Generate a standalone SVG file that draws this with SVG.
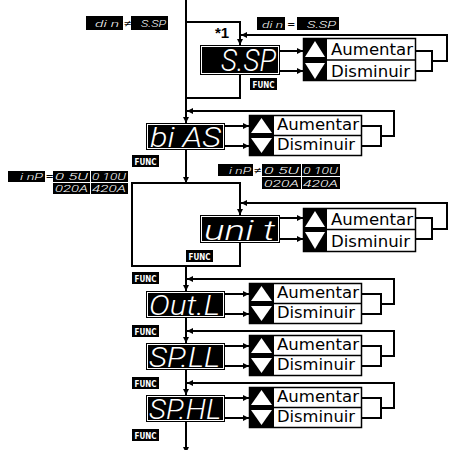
<svg xmlns="http://www.w3.org/2000/svg" width="453" height="450" viewBox="0 0 453 450">
<defs>
<marker id="ah" markerUnits="userSpaceOnUse" markerWidth="6" markerHeight="6" refX="6" refY="3" orient="auto">
<path d="M0,0 L6,3 L0,6 z" fill="#000"/>
</marker>
<style>
.ln{fill:none;stroke:#000;stroke-width:2}
.ar{marker-end:url(#ah)}
.dout{fill:#fff;stroke:#000;stroke-width:1}
.din{fill:#000}
.seg{font-family:Roboto,"DejaVu Sans",sans-serif;font-style:italic;font-weight:300;fill:#fff}
.key{fill:#fff;stroke:#000;stroke-width:1.5}
.tri{fill:#fff}
.kt{font-family:"DejaVu Sans",sans-serif;font-size:16px;fill:#000}
.fb{fill:#000}
.ft{font-family:"DejaVu Sans",sans-serif;font-weight:bold;font-size:8px;fill:#fff}
.lb{fill:#000}
.ls{font-family:Roboto,"DejaVu Sans",sans-serif;font-style:italic;font-weight:300;font-size:9px;fill:#fff}
.op{font-family:"DejaVu Sans",sans-serif;font-size:10px;fill:#000}
</style>
</defs>
<rect width="453" height="450" fill="#fff"/>

<g id="connectors">
<path class="ln ar" d="M186,0 V123"/>
<path class="ln ar" d="M186,22 H240 V45"/>
<path class="ln" d="M240,75 V98 H186"/>
<path class="ln ar" d="M280,51 H303"/>
<path class="ln ar" d="M280,71 H303"/>
<path class="ln" d="M415,51 H432 V71 H415"/>
<path class="ln ar" d="M432,61 H447 V35 H241"/>

<path class="ln ar" d="M186,150 V183"/>
<path class="ln ar" d="M225,126 H249"/>
<path class="ln ar" d="M225,146 H249"/>
<path class="ln" d="M362,126 H381 V146 H362"/>
<path class="ln ar" d="M381,136 H394 V111 H187"/>

<path class="ln ar" d="M240,243 V266 H132 V183 H240 V215"/>
<path class="ln ar" d="M280,218 H303"/>
<path class="ln ar" d="M280,239 H303"/>
<path class="ln" d="M415,218 H432 V239 H415"/>
<path class="ln ar" d="M432,229 H447 V203 H241"/>

<path class="ln ar" d="M186,266 V291"/>
<path class="ln ar" d="M225,294 H249"/>
<path class="ln ar" d="M225,314 H249"/>
<path class="ln" d="M362,294 H381 V314 H362"/>
<path class="ln ar" d="M381,304 H394 V279 H187"/>

<path class="ln ar" d="M186,318 V343"/>
<path class="ln ar" d="M225,346 H249"/>
<path class="ln ar" d="M225,366 H249"/>
<path class="ln" d="M362,346 H381 V366 H362"/>
<path class="ln ar" d="M381,356 H394 V331 H187"/>

<path class="ln ar" d="M186,370 V395"/>
<path class="ln ar" d="M225,398 H249"/>
<path class="ln ar" d="M225,418 H249"/>
<path class="ln" d="M362,398 H381 V418 H362"/>
<path class="ln ar" d="M381,408 H394 V383 H187"/>

<path class="ln ar" d="M186,422 V453"/>
</g>

<g id="label-din-ne">
<rect class="lb" x="86" y="16" width="37" height="14"/>
<text class="ls" x="95" y="27" font-size="11" textLength="24" lengthAdjust="spacingAndGlyphs">di n</text>
<text class="op" x="123.5" y="27">≠</text>
<rect class="lb" x="131" y="16" width="37" height="14"/>
<text class="ls" x="141" y="27" font-size="11" textLength="25" lengthAdjust="spacingAndGlyphs">S.SP</text>
</g>

<g id="label-din-eq">
<rect class="lb" x="257" y="17" width="28" height="13"/>
<text class="ls" x="262" y="27.5" font-size="11" textLength="21" lengthAdjust="spacingAndGlyphs">di n</text>
<text class="op" x="287" y="27.5">=</text>
<rect class="lb" x="297" y="17" width="42" height="13"/>
<text class="ls" x="307" y="27.5" font-size="11" textLength="29" lengthAdjust="spacingAndGlyphs">S.SP</text>
</g>

<g id="note-1">
<text x="215" y="38" font-family="Liberation Sans, sans-serif" font-weight="bold" font-size="15">*1</text>
</g>

<g id="disp-ssp">
<rect class="dout" x="200.5" y="45.5" width="79" height="29"/>
<rect class="din" x="202" y="47" width="76" height="26"/>
<text class="seg" x="221" y="71" font-size="32" textLength="55" lengthAdjust="spacingAndGlyphs">S.SP</text>
</g>
<g id="func-ssp"><rect class="fb" x="250" y="78" width="27" height="12"/><text class="ft" x="252.5" y="87.5" textLength="22" lengthAdjust="spacingAndGlyphs">FUNC</text></g>
<g id="keys-ssp">
<rect class="key" x="303.5" y="38.5" width="112" height="42"/>
<rect class="din" x="303" y="38" width="24" height="43"/>
<polygon class="tri" points="315,41 305,57 325,57"/>
<polygon class="tri" points="305,63 325,63 315,79"/>
<line x1="327" y1="60" x2="415" y2="60" stroke="#000" stroke-width="1.5"/>
<text class="kt" x="331" y="55" font-size="17" textLength="82" lengthAdjust="spacingAndGlyphs">Aumentar</text>
<text class="kt" x="331" y="77" font-size="17" textLength="79" lengthAdjust="spacingAndGlyphs">Disminuir</text>
</g>

<g id="disp-bias">
<rect class="dout" x="146.5" y="123.5" width="78" height="26"/>
<rect class="din" x="148" y="125" width="75" height="23"/>
<text class="seg" x="150" y="147" font-size="27" textLength="71" lengthAdjust="spacingAndGlyphs">bi AS</text>
</g>
<g id="func-bias"><rect class="fb" x="132" y="155" width="27" height="12"/><text class="ft" x="134.5" y="164.5" textLength="22" lengthAdjust="spacingAndGlyphs">FUNC</text></g>
<g id="keys-bias">
<rect class="key" x="249.5" y="115.5" width="112" height="40"/>
<rect class="din" x="249" y="115" width="25" height="41"/>
<polygon class="tri" points="261.5,118 251,133 272,133"/>
<polygon class="tri" points="251,138 272,138 261.5,153"/>
<line x1="274" y1="135.5" x2="362" y2="135.5" stroke="#000" stroke-width="1.5"/>
<text class="kt" x="277" y="130" textLength="82" lengthAdjust="spacingAndGlyphs">Aumentar</text>
<text class="kt" x="277" y="150" textLength="78" lengthAdjust="spacingAndGlyphs">Disminuir</text>
</g>

<g id="label-inp-eq">
<rect class="lb" x="8" y="171" width="37" height="11"/>
<text class="ls" x="20" y="180" textLength="23" lengthAdjust="spacingAndGlyphs">i nP</text>
<text class="op" x="45.5" y="180">=</text>
<rect class="lb" x="53" y="171" width="37" height="11"/>
<text class="ls" x="55" y="180" textLength="33" lengthAdjust="spacingAndGlyphs">0  5U</text>
<rect class="lb" x="91" y="171" width="37" height="11"/>
<text class="ls" x="92" y="180" textLength="34" lengthAdjust="spacingAndGlyphs">0 10U</text>
<rect class="lb" x="53" y="183" width="37" height="11"/>
<text class="ls" x="55" y="192" textLength="33" lengthAdjust="spacingAndGlyphs">020A</text>
<rect class="lb" x="91" y="183" width="37" height="11"/>
<text class="ls" x="92" y="192" textLength="34" lengthAdjust="spacingAndGlyphs">420A</text>
</g>

<g id="label-inp-ne">
<rect class="lb" x="218" y="164" width="35" height="12"/>
<text class="ls" x="229" y="173.5" textLength="22" lengthAdjust="spacingAndGlyphs">i nP</text>
<text class="op" x="253.5" y="173.5">≠</text>
<rect class="lb" x="262" y="164" width="39" height="12"/>
<text class="ls" x="264" y="173.5" textLength="35" lengthAdjust="spacingAndGlyphs">0  5U</text>
<rect class="lb" x="302" y="164" width="38" height="12"/>
<text class="ls" x="303" y="173.5" textLength="35" lengthAdjust="spacingAndGlyphs">0 10U</text>
<rect class="lb" x="262" y="177" width="39" height="12"/>
<text class="ls" x="264" y="186.5" textLength="35" lengthAdjust="spacingAndGlyphs">020A</text>
<rect class="lb" x="302" y="177" width="38" height="12"/>
<text class="ls" x="303" y="186.5" textLength="35" lengthAdjust="spacingAndGlyphs">420A</text>
</g>

<g id="disp-unit">
<rect class="dout" x="200.5" y="215.5" width="79" height="27"/>
<rect class="din" x="202" y="217" width="76" height="24"/>
<text class="seg" x="204" y="240" font-size="27" textLength="71" lengthAdjust="spacingAndGlyphs">uni t</text>
</g>
<g id="func-unit"><rect class="fb" x="186" y="250" width="27" height="12"/><text class="ft" x="188.5" y="259.5" textLength="22" lengthAdjust="spacingAndGlyphs">FUNC</text></g>
<g id="keys-unit">
<rect class="key" x="303.5" y="208.5" width="112" height="43"/>
<rect class="din" x="303" y="208" width="24" height="44"/>
<polygon class="tri" points="315,211 305,227 325,227"/>
<polygon class="tri" points="305,232 325,232 315,249"/>
<line x1="327" y1="229.5" x2="415" y2="229.5" stroke="#000" stroke-width="1.5"/>
<text class="kt" x="331" y="225" font-size="17" textLength="82" lengthAdjust="spacingAndGlyphs">Aumentar</text>
<text class="kt" x="331" y="247" font-size="17" textLength="79" lengthAdjust="spacingAndGlyphs">Disminuir</text>
</g>

<g id="func-pre-outl"><rect class="fb" x="132" y="272" width="27" height="12"/><text class="ft" x="134.5" y="281.5" textLength="22" lengthAdjust="spacingAndGlyphs">FUNC</text></g>

<g id="disp-outl">
<rect class="dout" x="146.5" y="291.5" width="78" height="26"/>
<rect class="din" x="148" y="293" width="75" height="23"/>
<text class="seg" x="149" y="315" font-size="27" textLength="71" lengthAdjust="spacingAndGlyphs">Out.L</text>
</g>
<g id="func-outl"><rect class="fb" x="132" y="325" width="27" height="12"/><text class="ft" x="134.5" y="334.5" textLength="22" lengthAdjust="spacingAndGlyphs">FUNC</text></g>
<g id="keys-outl">
<rect class="key" x="249.5" y="283.5" width="112" height="40"/>
<rect class="din" x="249" y="283" width="25" height="41"/>
<polygon class="tri" points="261.5,286 251,301 272,301"/>
<polygon class="tri" points="251,306 272,306 261.5,321"/>
<line x1="274" y1="303.5" x2="362" y2="303.5" stroke="#000" stroke-width="1.5"/>
<text class="kt" x="277" y="298" textLength="82" lengthAdjust="spacingAndGlyphs">Aumentar</text>
<text class="kt" x="277" y="318" textLength="78" lengthAdjust="spacingAndGlyphs">Disminuir</text>
</g>

<g id="disp-spll">
<rect class="dout" x="146.5" y="343.5" width="78" height="26"/>
<rect class="din" x="148" y="345" width="75" height="23"/>
<text class="seg" x="149" y="367" font-size="27" textLength="71" lengthAdjust="spacingAndGlyphs">SP.LL</text>
</g>
<g id="func-spll"><rect class="fb" x="132" y="377" width="27" height="12"/><text class="ft" x="134.5" y="386.5" textLength="22" lengthAdjust="spacingAndGlyphs">FUNC</text></g>
<g id="keys-spll">
<rect class="key" x="249.5" y="335.5" width="112" height="40"/>
<rect class="din" x="249" y="335" width="25" height="41"/>
<polygon class="tri" points="261.5,338 251,353 272,353"/>
<polygon class="tri" points="251,358 272,358 261.5,373"/>
<line x1="274" y1="355.5" x2="362" y2="355.5" stroke="#000" stroke-width="1.5"/>
<text class="kt" x="277" y="350" textLength="82" lengthAdjust="spacingAndGlyphs">Aumentar</text>
<text class="kt" x="277" y="370" textLength="78" lengthAdjust="spacingAndGlyphs">Disminuir</text>
</g>

<g id="disp-sphl">
<rect class="dout" x="146.5" y="395.5" width="78" height="26"/>
<rect class="din" x="148" y="397" width="75" height="23"/>
<text class="seg" x="149" y="419" font-size="27" textLength="72" lengthAdjust="spacingAndGlyphs">SP.HL</text>
</g>
<g id="func-sphl"><rect class="fb" x="132" y="429" width="27" height="12"/><text class="ft" x="134.5" y="438.5" textLength="22" lengthAdjust="spacingAndGlyphs">FUNC</text></g>
<g id="keys-sphl">
<rect class="key" x="249.5" y="387.5" width="112" height="40"/>
<rect class="din" x="249" y="387" width="25" height="41"/>
<polygon class="tri" points="261.5,390 251,405 272,405"/>
<polygon class="tri" points="251,410 272,410 261.5,425"/>
<line x1="274" y1="407.5" x2="362" y2="407.5" stroke="#000" stroke-width="1.5"/>
<text class="kt" x="277" y="402" textLength="82" lengthAdjust="spacingAndGlyphs">Aumentar</text>
<text class="kt" x="277" y="422" textLength="78" lengthAdjust="spacingAndGlyphs">Disminuir</text>
</g>
</svg>
